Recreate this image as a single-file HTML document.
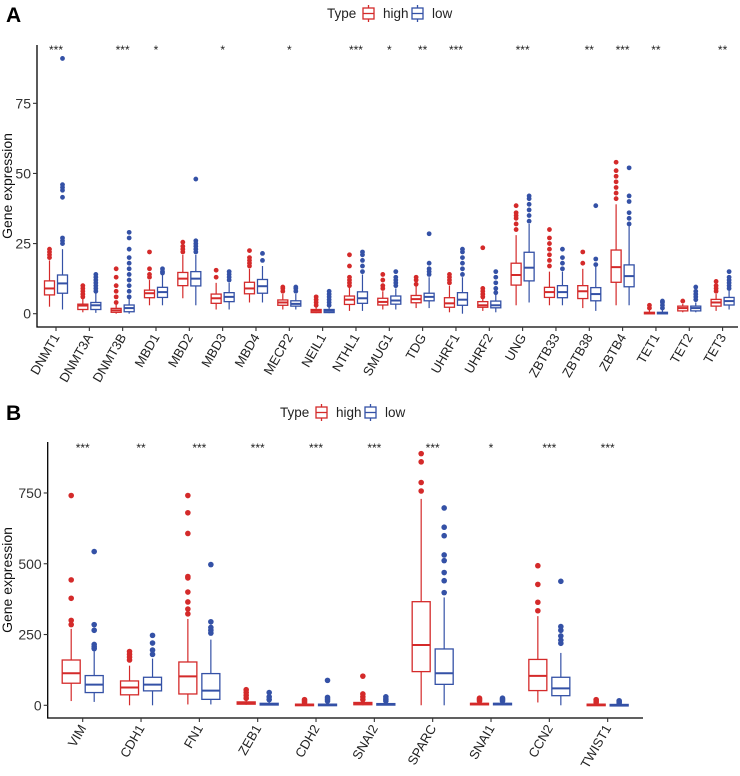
<!DOCTYPE html>
<html><head><meta charset="utf-8"><style>
body{margin:0;background:#fff;}
svg text{font-family:"Liberation Sans",sans-serif;}
</style></head><body>
<svg id="chart" width="740" height="771" xmlns="http://www.w3.org/2000/svg"></svg>
<script>
// ---- Panel A data ----
const genesA=["DNMT1","DNMT3A","DNMT3B","MBD1","MBD2","MBD3","MBD4","MECP2","NEIL1","NTHL1","SMUG1","TDG","UHRF1","UHRF2","UNG","ZBTB33","ZBTB38","ZBTB4","TET1","TET2","TET3"];
const starsA=["***","","***","*","","*","","*","","***","*","**","***","","***","","**","***","**","","**"];
// [whiskerLow, q1, median, q3, whiskerHigh]
const highA=[[2.5,6.7,9,11.7,19],[0.5,1.5,2.9,3.4,5.5],[0,0.5,1.2,1.9,3.5],[3,5.7,7.3,8.4,12],[5.5,10,12.5,14.7,21],[1.5,3.7,5.5,7,11],[4,7.1,9,11.2,16],[1.5,3,4,4.9,7],[0.2,0.4,1,1.5,2.5],[1,3.3,5,6.3,9.5],[1.5,3.1,4.2,5.5,8],[2,3.9,5.2,6.5,10],[0.5,2.3,3.7,5.7,10],[1,2.3,3,4.3,5.5],[3,10.2,13.8,18,28],[3,5.8,7.7,9.4,15],[2,5.4,8,10,16],[3,11.2,16.6,22.7,39],[0,0,0.2,0.5,1.5],[0.5,1,2,2.7,3.5],[1,2.7,4,5.1,7]];
const lowA=[[1.5,7.3,10.8,13.8,23],[0.3,1.5,3,4,7.5],[0,0.7,2,3.1,5.5],[3,5.8,7.7,9.4,14],[3,9.9,12.5,15,21],[1.5,4.3,6,7.5,11],[4,7.3,9.8,12.2,17],[1.5,2.7,3.5,4.6,7],[0.2,0.4,1,1.5,2.5],[1,3.7,5.5,7.8,14],[1.5,3.4,4.7,6.3,9],[2,4.6,6,7.3,13],[0,3,5,7.5,13],[0.5,2.1,3,4.5,7],[4,11.7,16.4,21.9,32],[3,5.7,7.7,10,15],[1,4.6,7,9.3,17],[3,9.6,13.4,17.4,32],[0,0,0.2,0.5,1.5],[0.5,1,2,2.7,4],[1.5,3.1,4.5,5.8,8.5]];
const highOutA=[[20,21,22,23],[6,7,8,9,10],[4,6,8,10,13,16],[13,14,16,22],[22,23,24,25.5],[13,15.5],[17,18,19,20,22.5],[8,9,9.5],[3,4,5,6],[10,11,12,13,17,21],[9,10,12,14],[10.5,12,13],[11,12,13,14],[6,7,8,9,23.5],[30,32,34,35,36,38.5],[17,19,21,23,25,27,30],[18,22],[41,43,45,47,49,51,54],[2,3],[4.5],[8,9,10,11.5]];
const lowOutA=[[25,26,27,41.5,44,45,46,91],[8,9,10,11,12,13,14],[6,8,10,12,14,16,18,20,23,27,29],[14.5,15,16],[22,23,24,25,26,48],[12,13,14,15],[19,21.5],[8,9,9.5],[3,4,5,6,7,8],[15,17,19,21,22],[10,11,12,13,15],[14,15,16,18,28.5],[14,16,18,20,22,23],[7.5,9,11,13,15],[33,35,37,39,41,42],[16,18,20,23],[17.5,19.5,38.5],[32,34,36,40,42,52],[2,3,4,4.5],[5,6,7,8,9.5],[9,10,11,12,13,15]];
const ticksA=[0,25,50,75];

// ---- Panel B data ----
const genesB=["VIM","CDH1","FN1","ZEB1","CDH2","SNAI2","SPARC","SNAI1","CCN2","TWIST1"];
const starsB=["***","**","***","***","***","***","***","*","***","***"];
const highB=[[15,78,113,160,270],[0,37,63,86,140],[3,40,102,153,305],[2,4,8,12,20],[0,0,2,4,6],[0,2,7,10,16],[0,119,213,366,729],[0,2,5,7,10],[10,52,104,162,315],[0,0,2,4,6]];
const lowB=[[12,45,73,105,190],[0,51,73,99,165],[3,21,52,112,232],[0,1,4,7,12],[0,0,2,4,7],[0,1,3,6,10],[0,74,113,199,381],[0,2,5,7,10],[0,34,60,99,185],[0,0,1,3,5]];
const highOutB=[[285,300,378,443,741],[160,170,180,190],[323,340,365,400,450,455,607,680,741],[25,35,45,55],[10,15,20],[20,30,40,103],[757,787,860,889],[15,20,25],[334,364,427,493],[10,15,20]];
const lowOutB=[[200,207,215,265,285,543],[180,195,220,247],[255,265,275,295,497],[20,30,45],[15,22,28,88],[15,22,30],[398,440,469,511,531,599,629,697],[15,20,25],[219,230,245,265,278,438],[8,12,16]];
const ticksB=[0,250,500,750];

const NS="http://www.w3.org/2000/svg";
const svg=document.getElementById('chart');
const RED="#d42a2a", BLUE="#3451a6";
function mk(tag,attrs,parent){const e=document.createElementNS(NS,tag);for(const k in attrs)e.setAttribute(k,attrs[k]);(parent||svg).appendChild(e);return e;}

function legend(x,y,g){
  const t=mk('text',{x:x,y:y+5,'font-size':13.5,fill:'#222'},g);t.textContent='Type';
  
  
  [[RED,'high',x+36],[BLUE,'low',x+85]].forEach(function(d){
    const lg=mk('g',{},g);
    
    
    mk('line',{x1:d[2]+5.5,x2:d[2]+5.5,y1:y-8,y2:y+9,stroke:d[0],'stroke-width':1.3},lg);
    mk('rect',{x:d[2],y:y-5,width:11,height:11,fill:'#fff',stroke:d[0],'stroke-width':1.3},lg);
    mk('line',{x1:d[2],x2:d[2]+11,y1:y+0.5,y2:y+0.5,stroke:d[0],'stroke-width':1.3},lg);
    const tt=mk('text',{x:d[2]+20,y:y+5,'font-size':13.5,fill:'#222'},lg);tt.textContent=d[1];
  });
}

function panel(P){
  const g=mk('g',{});
  
  
  const Y=function(v){return P.y0-v*P.k;};
  const X=function(i){return P.xs0+i*P.dx;};
  const lab=mk('text',{x:6,y:P.labY,'font-size':21,'font-weight':'bold',fill:'#000'},g);lab.textContent=P.letter;
  
  
  legend(P.legX,P.legY,g);
  const ax=mk('path',{d:'M'+P.left+' '+P.top+' V'+P.bottom+' H'+P.right,fill:'none',stroke:'#000','stroke-width':1.3},g);
  
  
  P.ticks.forEach(function(t){
    mk('line',{x1:P.left-4,x2:P.left,y1:Y(t),y2:Y(t),stroke:'#333','stroke-width':1.1},g);
    const tx=mk('text',{x:P.left-6,y:Y(t)+5,'font-size':14,'text-anchor':'end',fill:'#333'},g);tx.textContent=t;
    
    
  });
  const yt=mk('text',{x:0,y:0,'font-size':14,'text-anchor':'middle',fill:'#111',transform:'translate(12,'+((P.top+P.bottom)/2)+') rotate(-90)'},g);
  yt.textContent='Gene expression';
  
  
  P.genes.forEach(function(gn,i){
    const cx=X(i);
    mk('line',{x1:cx,x2:cx,y1:P.bottom,y2:P.bottom+4,stroke:'#333','stroke-width':1.1},g);
    const tl=mk('text',{x:0,y:0,'font-size':13,'text-anchor':'end',fill:'#222',transform:'translate('+(cx+4)+','+(P.bottom+10)+') rotate(-60)'},g);
    tl.textContent=gn;
    
    
    if(P.stars[i]){const st=mk('text',{x:cx,y:P.starY,'font-size':12,'text-anchor':'middle',fill:'#222'},g);st.textContent=P.stars[i];
      
      }
    [[P.high,P.highOut,RED,-P.off,'high'],[P.low,P.lowOut,BLUE,P.off,'low']].forEach(function(s){
      const b=s[0][i], bx=cx+s[3], w=P.bw;
      const bg=mk('g',{},g);
      
      
      mk('line',{x1:bx,x2:bx,y1:Y(b[0]),y2:Y(b[4]),stroke:s[2],'stroke-width':1.2},bg);
      mk('rect',{x:bx-w/2,y:Y(b[3]),width:w,height:Math.max(Y(b[1])-Y(b[3]),1.5),fill:'#fff',stroke:s[2],'stroke-width':1.3},bg);
      mk('line',{x1:bx-w/2,x2:bx+w/2,y1:Y(b[2]),y2:Y(b[2]),stroke:s[2],'stroke-width':2},bg);
      s[1][i].forEach(function(v){mk('circle',{cx:bx,cy:Y(v),r:P.r,fill:s[2]},bg);});
    });
  });
}

panel({name:'panel-a',letter:'A',labY:22,legX:327,legY:13,left:37,right:738,top:45,bottom:327,y0:313.7,k:2.805,xs0:56,dx:33.33,off:6.5,bw:10,r:2.4,starY:54,genes:genesA,stars:starsA,high:highA,low:lowA,highOut:highOutA,lowOut:lowOutA,ticks:ticksA});
panel({name:'panel-b',letter:'B',labY:420,legX:280,legY:412,left:47.7,right:643,top:442,bottom:718,y0:705.3,k:0.2831,xs0:82.7,dx:58.33,off:11.5,bw:18,r:2.8,starY:452,genes:genesB,stars:starsB,high:highB,low:lowB,highOut:highOutB,lowOut:lowOutB,ticks:ticksB});
</script>
</body></html>
